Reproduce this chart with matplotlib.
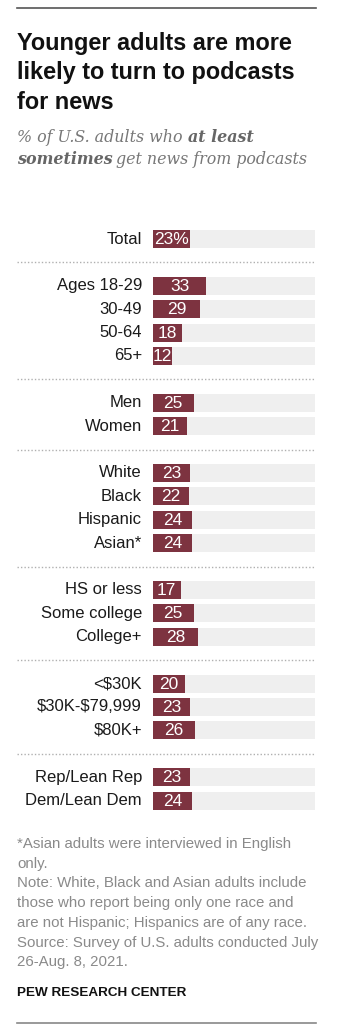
import matplotlib.pyplot as plt

# Datos del grafico
labels = ["Total",
          "Ages 18-29", "30-49", "50-64", "65+",
          "Men", "Women",
          "White", "Black", "Hispanic", "Asian*",
          "HS or less", "Some college", "College+",
          "<\\$30K", "\\$30K-\\$79,999", "\\$80K+",
          "Rep/Lean Rep", "Dem/Lean Dem"]
values = [23,
          33, 29, 18, 12,
          25, 21,
          23, 22, 24, 24,
          17, 25, 28,
          20, 23, 26,
          23, 24]
group_sizes = [1, 4, 2, 4, 3, 3, 2]

W, H = 350, 1035
fig = plt.figure(figsize=(W / 100, H / 100), dpi=100)

# Ejes de texto en coordenadas de pixel
tx = fig.add_axes([0, 0, 1, 1])
tx.set_xlim(0, W)
tx.set_ylim(H, 0)
tx.axis("off")

# Ejes de barras: x de 0 a 100%
bar_left, bar_right = 153, 315
bx = fig.add_axes([bar_left / W, 0, (bar_right - bar_left) / W, 1])
bx.set_xlim(0, 100)
bx.set_ylim(H, 0)
bx.axis("off")

bar_color = "#7d3340"
sans = "Liberation Sans"

# Posiciones de filas y separadores
step = 23.4
y = 239.0
row_y = []
sep_y = []
for gi, n in enumerate(group_sizes):
    for k in range(n):
        row_y.append(y)
        y += step
    if gi < len(group_sizes) - 1:
        sep_y.append(y)
        y += step

bx.barh(row_y, [100] * len(values), height=18, color="#efefef", left=0)
bx.barh(row_y, values, height=18, color=bar_color, left=0)

for i, (lab, v, yy) in enumerate(zip(labels, values, row_y)):
    tx.text(142, yy, lab, ha="right", va="center", fontsize=12,
            family=sans, color="#1a1a1a")
    txt = f"{v}%" if i == 0 else f"{v}"
    bx.text(v / 2, yy + 0.5, txt, ha="center", va="center", fontsize=12.5,
            family=sans, color="white")

for sy in sep_y:
    tx.plot([17, 315], [sy, sy], color="#b0b0b0", lw=1, ls=(0, (1, 1.5)))

# Lineas superior e inferior
tx.plot([17, 316], [8, 8], color="#555555", lw=1.2)
tx.plot([17, 316], [1023, 1023], color="#888888", lw=1.2)

# Titulo y subtitulo
tx.text(17, 32, "Younger adults are more\nlikely to turn to podcasts\nfor news",
        ha="left", va="top", fontsize=16.9, fontweight="bold", family=sans,
        color="#111111", linespacing=1.35)
sub_font = "DejaVu Serif"
sub_size = 11.4
t1 = tx.text(17, 137, "% of U.S. adults who ", ha="left", va="center",
             fontsize=sub_size, style="italic", family=sub_font, color="#777777")
fig.canvas.draw()
r = fig.canvas.get_renderer()
bb = t1.get_window_extent(r)
tx.text(bb.x1, 137, "at least", ha="left", va="center", fontsize=sub_size,
        style="italic", fontweight="bold", family=sub_font, color="#666666")
t2 = tx.text(17, 159, "sometimes", ha="left", va="center", fontsize=sub_size,
             style="italic", fontweight="bold", family=sub_font, color="#666666")
bb2 = t2.get_window_extent(r)
tx.text(bb2.x1 + 3, 159, "get news from podcasts", ha="left", va="center",
        fontsize=sub_size, style="italic", family=sub_font, color="#777777")

# Notas
notes = ("*Asian adults were interviewed in English\nonly.\n"
         "Note: White, Black and Asian adults include\n"
         "those who report being only one race and\n"
         "are not Hispanic; Hispanics are of any race.\n"
         "Source: Survey of U.S. adults conducted July\n"
         "26-Aug. 8, 2021.")
tx.text(17, 837, notes, ha="left", va="top", fontsize=10.8, family=sans,
        color="#8a8a8a", linespacing=1.52)
tx.text(17, 993, "PEW RESEARCH CENTER", ha="left", va="center", fontsize=9.7,
        fontweight="bold", family=sans, color="#111111")

fig.savefig("out.png", dpi=100, facecolor="white")
